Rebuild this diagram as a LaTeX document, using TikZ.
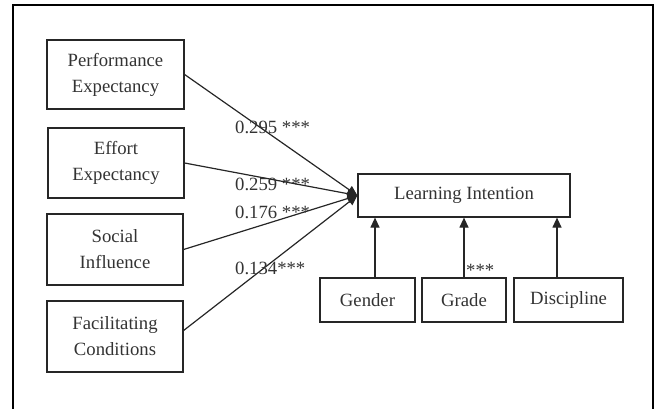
\documentclass[tikz,border=0pt]{standalone}
\usepackage{fontspec}
\setmainfont{Liberation Serif}
\usetikzlibrary{arrows.meta}
\begin{document}
\begin{tikzpicture}[x=1pt,y=-1pt,
  box/.style={draw=black!85, line width=1.2pt, align=center, inner sep=0pt,
    font=\fontsize{18.7}{26}\selectfont, text=black!80},
  lbl/.style={inner sep=0pt, anchor=base west, font=\fontsize{18.7}{22}\selectfont, text=black!80},
  arr/.style={draw=black!85, line width=1.2pt, -{Triangle[width=9pt,length=10pt]}}]
\useasboundingbox (0,0) rectangle (656,409);
\draw[line width=2pt] (13,409) -- (13,5) -- (653,5) -- (653,409);
\node[box, minimum width=137, minimum height=69] (pe) at (115.5,74.5) {Performance\\Expectancy};
\node[box, minimum width=136, minimum height=70] (ee) at (116,163) {Effort\\Expectancy};
\node[box, minimum width=136, minimum height=71] (si) at (115,249.5) {Social\\Influence};
\node[box, minimum width=136, minimum height=71] (fc) at (115,336.5) {Facilitating\\Conditions};
\node[box, minimum width=212, minimum height=43] (li) at (464,195.5) {Learning Intention};
\node[box, minimum width=95, minimum height=44] (ge) at (367.5,300) {Gender};
\node[box, minimum width=84, minimum height=44] (gr) at (464,300) {Grade};
\node[box, minimum width=109, minimum height=44] (di) at (568.5,300) {Discipline};
\draw[arr] (pe.east) -- (li.west);
\draw[arr] (ee.east) -- (li.west);
\draw[arr] (si.east) -- (li.west);
\draw[arr] ([yshift=6pt]fc.east) -- (li.west);
\draw[arr] ([xshift=7.5pt]ge.north) -- ([xshift=7.5pt]ge.north |- li.south);
\draw[arr] (gr.north) -- (gr.north |- li.south);
\draw[arr] ([xshift=-11.5pt]di.north) -- ([xshift=-11.5pt]di.north |- li.south);
\node[lbl] (l1) at (235,134) {0.295 ***};
\node[lbl] (l2) at (235,190) {0.259 ***};
\node[lbl] (l3) at (235,218) {0.176 ***};
\node[lbl] (l4) at (235,274) {0.134***};
\node[lbl] (l5) at (466,276) {***};
\end{tikzpicture}
\end{document}
